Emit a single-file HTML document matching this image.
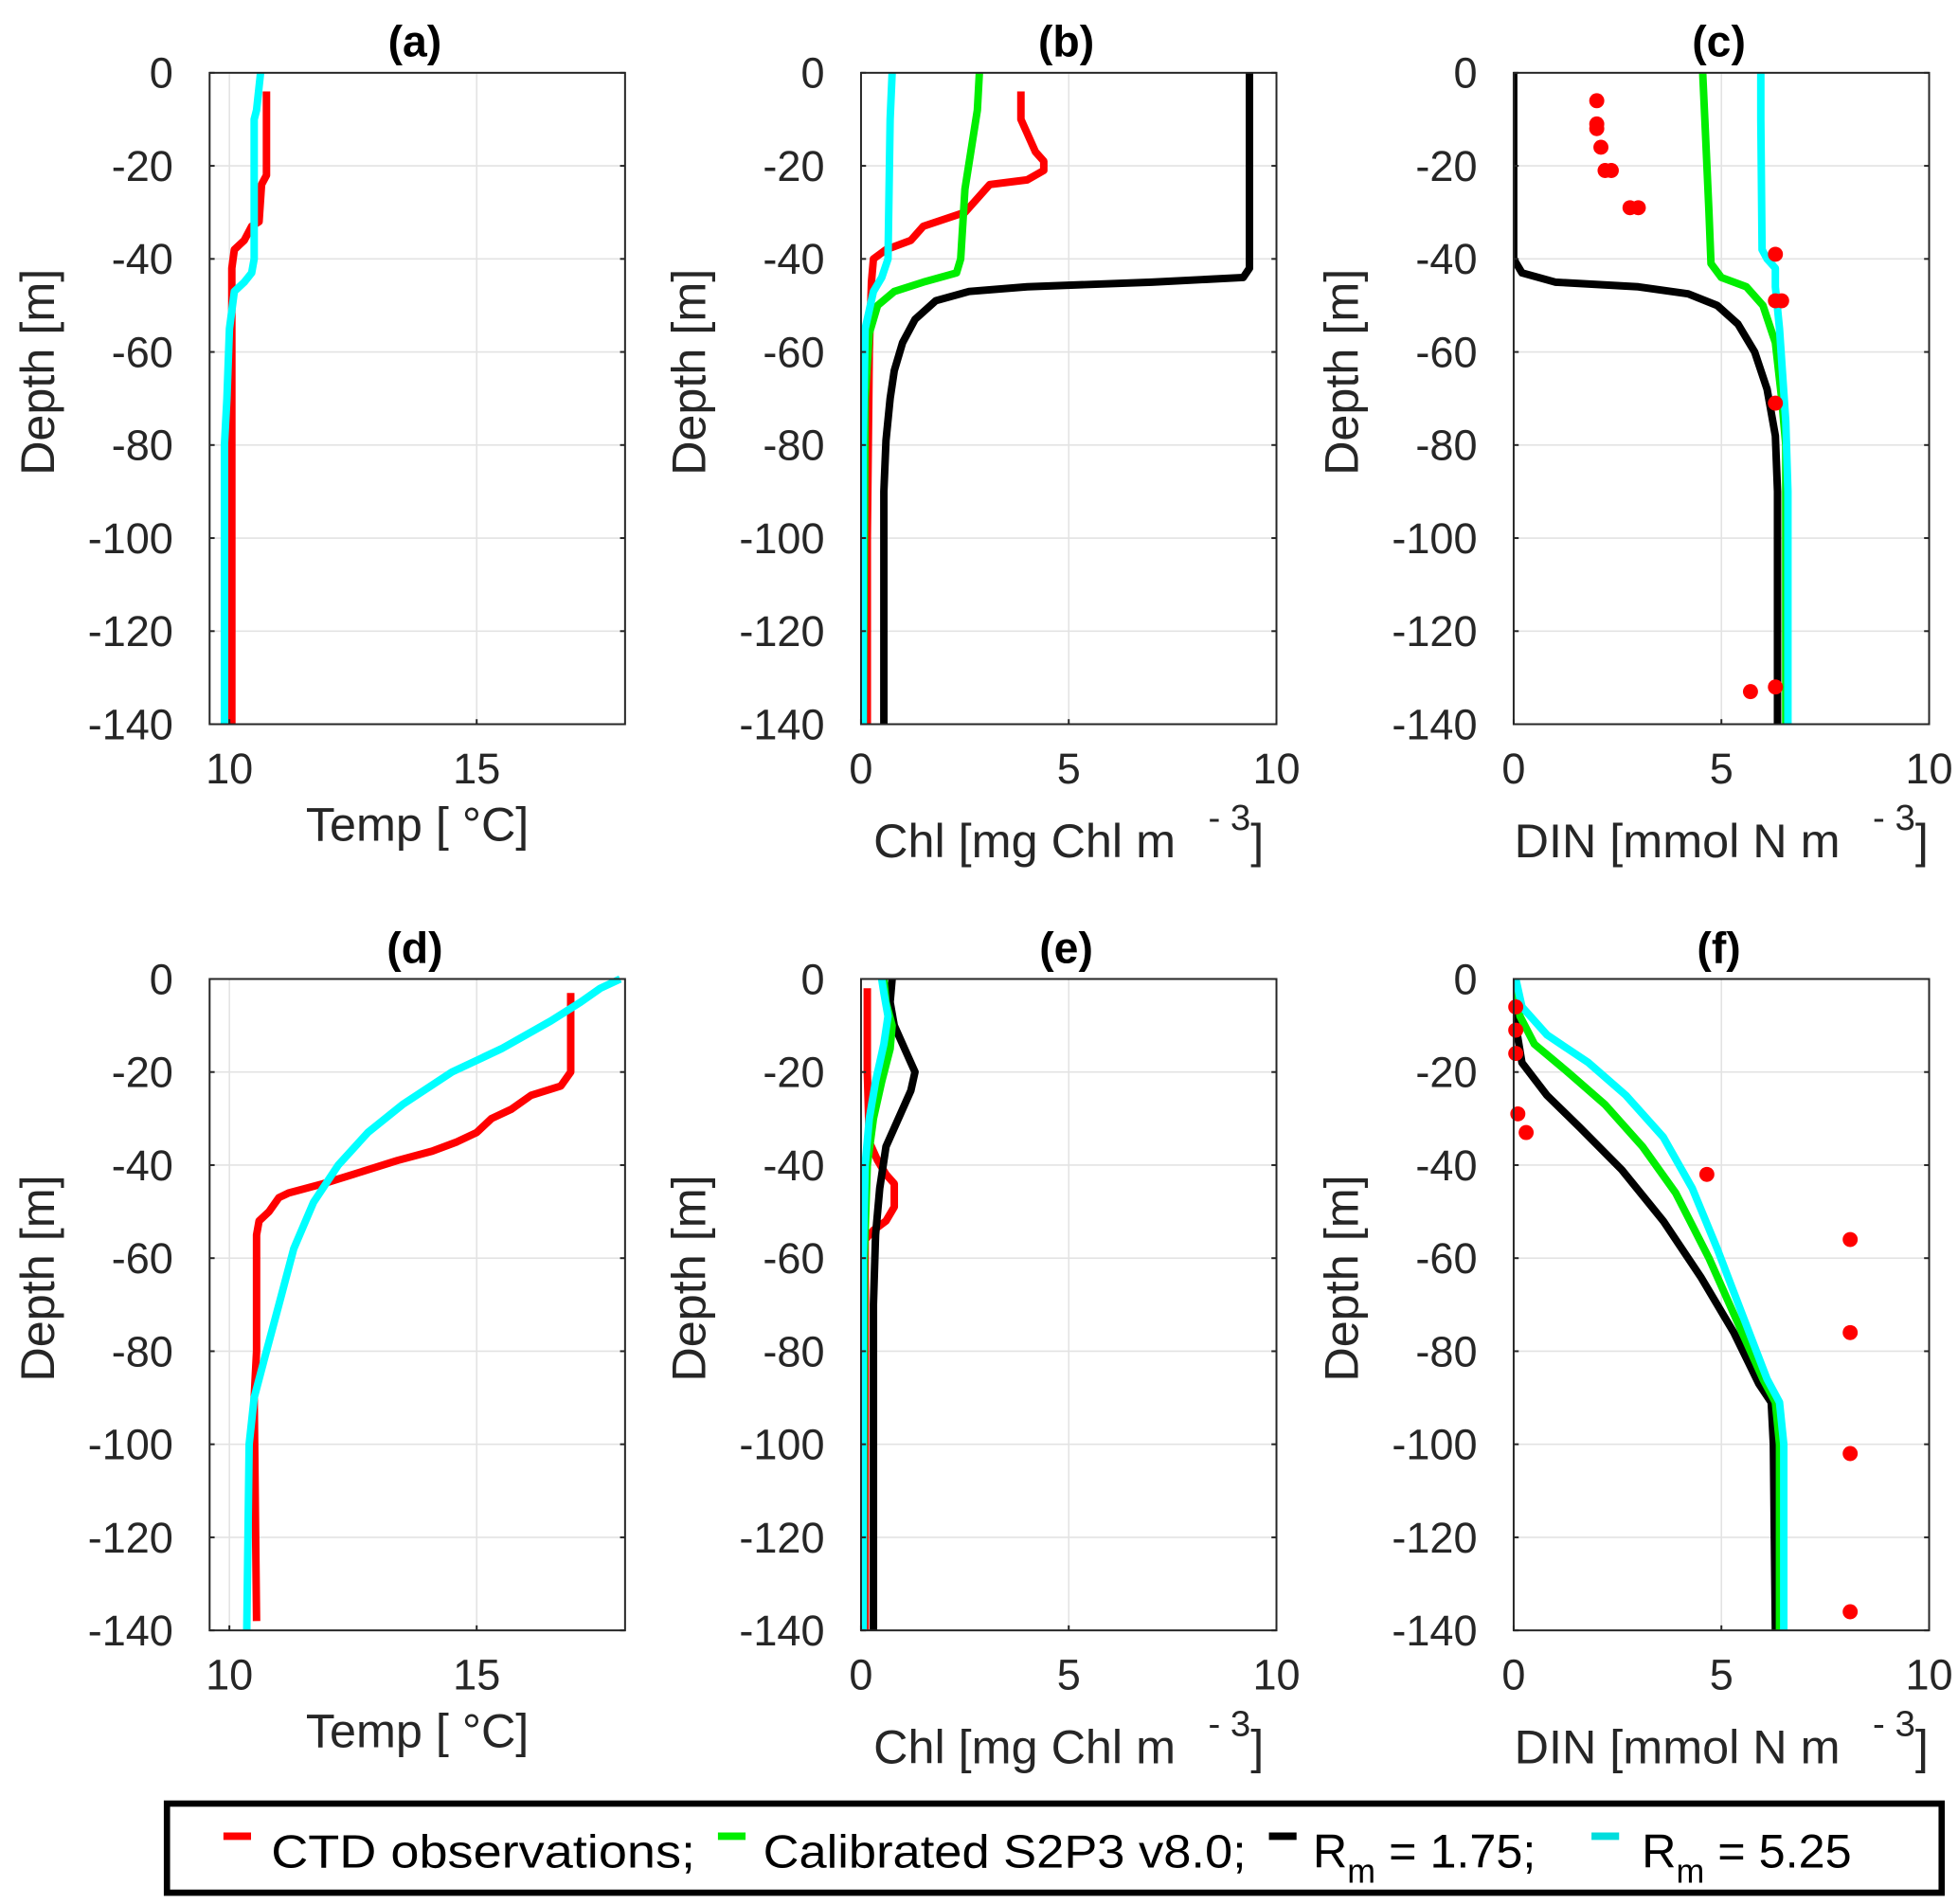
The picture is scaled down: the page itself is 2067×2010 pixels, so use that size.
<!DOCTYPE html>
<html><head><meta charset="utf-8"><style>
html,body{margin:0;padding:0;background:#fff;}
svg{display:block;font-family:"Liberation Sans",Arial,sans-serif;}
</style></head><body>
<svg id="fig" width="2067" height="2010" viewBox="0 0 1560 1517" xmlns="http://www.w3.org/2000/svg">
<g id="panels"></g>
<g>
<rect x="133" y="1437" width="1414" height="71" fill="#fff" stroke="#000" stroke-width="5"/>
<line x1="178" y1="1463" x2="200" y2="1463" stroke="#ff0000" stroke-width="6"/>
<text x="216" y="1488" font-size="37" fill="#000" textLength="338" lengthAdjust="spacingAndGlyphs">CTD observations;</text>
<line x1="572" y1="1463" x2="594" y2="1463" stroke="#00ee00" stroke-width="6"/>
<text x="608" y="1488" font-size="37" fill="#000" textLength="385" lengthAdjust="spacingAndGlyphs">Calibrated S2P3 v8.0;</text>
<line x1="1011" y1="1463" x2="1033" y2="1463" stroke="#000" stroke-width="6"/>
<text x="1046" y="1488" font-size="38" fill="#000">R<tspan font-size="27" dy="12">m</tspan><tspan dy="-12"> = 1.75;</tspan></text>
<line x1="1268" y1="1463" x2="1290" y2="1463" stroke="#00dddd" stroke-width="6"/>
<text x="1308" y="1488" font-size="38" fill="#000">R<tspan font-size="27" dy="12">m</tspan><tspan dy="-12"> = 5.25</tspan></text>
</g>
</svg>
<script>
// ---- data ----
const yTicks = [0,-20,-40,-60,-80,-100,-120,-140];
const tempTicks = [10,15];
const concTicks = [0,5,10];
// panel a
const aRedX=[10.75,10.75,10.65,10.6,10.45,10.3,10.1,10.05,10.05,10.05,10.05];
const aRedY=[-4,-22,-24,-32,-33,-36,-38,-42,-60,-80,-140];
const aCyanX=[10.63,10.55,10.5,10.5,10.45,10.3,10.1,10.0,9.95,9.9,9.9];
const aCyanY=[0,-8,-10,-40,-43,-45,-47,-55,-70,-80,-140];
// panel b
const bRedX=[3.85,3.85,4.0,4.2,4.4,4.4,4.0,3.1,2.5,1.5,1.2,0.6,0.3,0.25,0.2,0.15,0.15];
const bRedY=[-4,-10,-13,-17,-19,-21,-23,-24,-30,-33,-36,-38,-40,-45,-60,-100,-140];
const bGreenX=[2.85,2.8,2.5,2.4,2.3,1.5,0.8,0.4,0.2,0.1,0.05];
const bGreenY=[0,-8,-25,-40,-43,-45,-47,-50,-56,-70,-140];
const bCyanX=[0.75,0.7,0.65,0.5,0.3,0.1,0.05,0.05];
const bCyanY=[0,-10,-40,-44,-47,-55,-80,-140];
const bBlackX=[9.35,9.35,9.2,7,4,2.6,1.8,1.3,1.0,0.8,0.7,0.6,0.55,0.55];
const bBlackY=[0,-42,-44,-45,-46,-47,-49,-53,-58,-64,-70,-79,-90,-140];
// panel c
const cObsX=[2.0,2.0,2.0,2.1,2.2,2.35,2.8,3.0,6.3,6.3,6.45,6.3,5.7,6.3];
const cObsY=[-6,-11,-12,-16,-21,-21,-29,-29,-39,-49,-49,-71,-133,-132];
const cGreenX=[4.55,4.6,4.7,4.75,5.0,5.6,6.0,6.3,6.45,6.55,6.55];
const cGreenY=[0,-10,-30,-41,-44,-46,-50,-58,-70,-80,-140];
const cCyanX=[5.95,5.95,5.98,6.1,6.3,6.3,6.4,6.55,6.6,6.6];
const cCyanY=[0,-10,-38,-40,-42,-46,-55,-75,-90,-140];
const cBlackX=[0,0,0.2,1,3,4.2,4.9,5.4,5.8,6.1,6.3,6.35,6.35];
const cBlackY=[0,-40,-43,-45,-46,-47.5,-50,-54,-60,-68,-78,-90,-140];
// panel d
const dRedX=[16.9,16.9,16.7,16.1,15.7,15.3,15,14.6,14.1,13.4,12.5,11.9,11.2,11.0,10.8,10.6,10.55,10.55,10.5,10.55];
const dRedY=[-3,-20,-23,-25,-28,-30,-33,-35,-37,-39,-42,-44,-46,-47,-50,-52,-55,-80,-90,-138];
const dCyanX=[17.9,17.5,17.1,16.5,15.5,14.5,13.5,12.8,12.2,11.7,11.3,11.0,10.7,10.5,10.4,10.35];
const dCyanY=[0,-2,-5,-9,-15,-20,-27,-33,-40,-48,-58,-70,-82,-90,-100,-140];
// panel e
const eRedX=[0.15,0.15,0.2,0.4,0.6,0.8,0.8,0.6,0.3,0.1,0.1];
const eRedY=[-2,-20,-35,-39,-42,-44,-49,-52,-54,-56,-140];
const eBlackX=[0.75,0.7,0.8,1.1,1.3,1.2,0.9,0.6,0.45,0.35,0.3,0.3];
const eBlackY=[0,-5,-10,-16,-20,-24,-30,-36,-45,-55,-70,-140];
const eGreenX=[0.55,0.6,0.75,0.7,0.5,0.3,0.15,0.08,0.05];
const eGreenY=[0,-5,-10,-15,-22,-30,-40,-60,-140];
const eCyanX=[0.5,0.55,0.65,0.55,0.35,0.2,0.1,0.05,0.05];
const eCyanY=[0,-3,-8,-14,-22,-30,-40,-60,-140];
// panel f
const fObsX=[0.05,0.05,0.05,0.1,0.3,4.65,8.1,8.1,8.1,8.1];
const fObsY=[-6,-11,-16,-29,-33,-42,-56,-76,-102,-136];
const fBlackX=[0,0.05,0.2,0.8,1.6,2.6,3.6,4.5,5.3,5.9,6.2,6.25,6.3];
const fBlackY=[0,-10,-18,-25,-32,-41,-52,-64,-76,-87,-91,-100,-140];
const fGreenX=[0.05,0.15,0.5,1.3,2.2,3.1,3.9,4.7,5.4,6.0,6.3,6.4,6.4];
const fGreenY=[0,-8,-14,-20,-27,-36,-46,-60,-74,-86,-91,-100,-140];
const fCyanX=[0.05,0.2,0.8,1.8,2.7,3.6,4.3,4.9,5.5,6.1,6.4,6.5,6.5];
const fCyanY=[0,-6,-12,-18,-25,-34,-45,-58,-72,-86,-91,-100,-140];

const RED="#ff0000",GREEN="#00ee00",BLACK="#000000",CYAN="#00ffff";
const NS="http://www.w3.org/2000/svg";
const root=document.getElementById('panels');
function mk(tag,attrs,parent){const e=document.createElementNS(NS,tag);for(const k in attrs)e.setAttribute(k,attrs[k]);(parent||root).appendChild(e);return e;}

const panels=[
 {id:'a',x0:167,y0:58,xmin:9.6,xmax:18,ticks:tempTicks,label:'temp',
  lines:[[aRedX,aRedY,RED,'ctd'],[aCyanX,aCyanY,CYAN,'rm525']]},
 {id:'b',x0:686,y0:58,xmin:0,xmax:10,ticks:concTicks,label:'chl',
  lines:[[bRedX,bRedY,RED,'ctd'],[bGreenX,bGreenY,GREEN,'calibrated'],[bBlackX,bBlackY,BLACK,'rm175'],[bCyanX,bCyanY,CYAN,'rm525']]},
 {id:'c',x0:1206,y0:58,xmin:0,xmax:10,ticks:concTicks,label:'din',pts:[cObsX,cObsY],
  lines:[[cGreenX,cGreenY,GREEN,'calibrated'],[cCyanX,cCyanY,CYAN,'rm525'],[cBlackX,cBlackY,BLACK,'rm175']]},
 {id:'d',x0:167,y0:780,xmin:9.6,xmax:18,ticks:tempTicks,label:'temp',
  lines:[[dRedX,dRedY,RED,'ctd'],[dCyanX,dCyanY,CYAN,'rm525']]},
 {id:'e',x0:686,y0:780,xmin:0,xmax:10,ticks:concTicks,label:'chl',
  lines:[[eRedX,eRedY,RED,'ctd'],[eBlackX,eBlackY,BLACK,'rm175'],[eGreenX,eGreenY,GREEN,'calibrated'],[eCyanX,eCyanY,CYAN,'rm525']]},
 {id:'f',x0:1206,y0:780,xmin:0,xmax:10,ticks:concTicks,label:'din',pts:[fObsX,fObsY],
  lines:[[fBlackX,fBlackY,BLACK,'rm175'],[fGreenX,fGreenY,GREEN,'calibrated'],[fCyanX,fCyanY,CYAN,'rm525']]}
];
const W=331,H=519;
panels.forEach(p=>{
  const g=mk('g',{});
  
  
  const sx=v=>p.x0+(v-p.xmin)/(p.xmax-p.xmin)*W;
  const sy=v=>p.y0+(0-v)/140*H;
  const clip=mk('clipPath',{id:'clip'+p.id},g);
  mk('rect',{x:p.x0,y:p.y0-4,width:W,height:H+8},clip);
  yTicks.forEach(t=>{
    const l=mk('line',{x1:p.x0,x2:p.x0+W,y1:sy(t),y2:sy(t),stroke:'#e3e3e3','stroke-width':1.2},g);
    
    
  });
  p.ticks.forEach(t=>{
    const l=mk('line',{x1:sx(t),x2:sx(t),y1:p.y0,y2:p.y0+H,stroke:'#e3e3e3','stroke-width':1.2},g);
    
    
  });
  const lg=mk('g',{'clip-path':'url(#clip'+p.id+')'},g);
  p.lines.forEach(([xs,ys,c,n])=>{
    const d=xs.map((v,i)=>(i?'L':'M')+sx(v).toFixed(1)+','+sy(ys[i]).toFixed(1)).join('');
    const pa=mk('path',{d:d,fill:'none',stroke:c,'stroke-width':6,'stroke-linejoin':'round'},lg);
    
    
  });
  if(p.pts){
    p.pts[0].forEach((v,i)=>{
      const c=mk('circle',{cx:sx(v),cy:sy(p.pts[1][i]),r:6,fill:RED},g);
      
      
    });
  }
  const bx=mk('rect',{x:p.x0,y:p.y0,width:W,height:H,fill:'none',stroke:'#262626','stroke-width':1.5},g);
  
  
  yTicks.forEach(t=>{
    mk('line',{x1:p.x0,x2:p.x0+4,y1:sy(t),y2:sy(t),stroke:'#262626','stroke-width':1.5},g);
    mk('line',{x1:p.x0+W-4,x2:p.x0+W,y1:sy(t),y2:sy(t),stroke:'#262626','stroke-width':1.5},g);
    const tx=mk('text',{x:p.x0-29,y:sy(t)+12,'text-anchor':'end','font-size':34,fill:'#262626'},g);
    tx.textContent=String(t);
    
    
  });
  p.ticks.forEach(t=>{
    mk('line',{x1:sx(t),x2:sx(t),y1:p.y0+H,y2:p.y0+H-4,stroke:'#262626','stroke-width':1.5},g);
    const tx=mk('text',{x:sx(t),y:p.y0+H+47,'text-anchor':'middle','font-size':34,fill:'#262626'},g);
    tx.textContent=t;
    
    
  });
  const ti=mk('text',{x:p.x0+W/2-2,y:p.y0-13,'text-anchor':'middle','font-size':35,'font-weight':'bold',fill:'#000'},g);
  ti.textContent='('+p.id+')';
  
  
  const yl=mk('text',{x:0,y:0,'text-anchor':'middle','font-size':38,fill:'#262626',transform:'translate('+(p.x0-124)+','+(p.y0+H/2-21)+') rotate(-90)'},g);
  yl.textContent='Depth [m]';
  
  
  const xl=mk('text',{x:p.x0+W/2,y:p.y0+H+93,'text-anchor':'middle','font-size':38,fill:'#262626'},g);
  
  
  if(p.label==='temp'){xl.textContent='Temp [ °C]';}
  else{
    const base=p.label==='chl'?'Chl [mg Chl m':'DIN [mmol N m';
    xl.setAttribute('y',p.y0+H+106);
    xl.innerHTML=base+'<tspan font-size="29" dx="26" dy="-22">- 3</tspan><tspan dy="22">]</tspan>';
  }
});
</script>
</body></html>
